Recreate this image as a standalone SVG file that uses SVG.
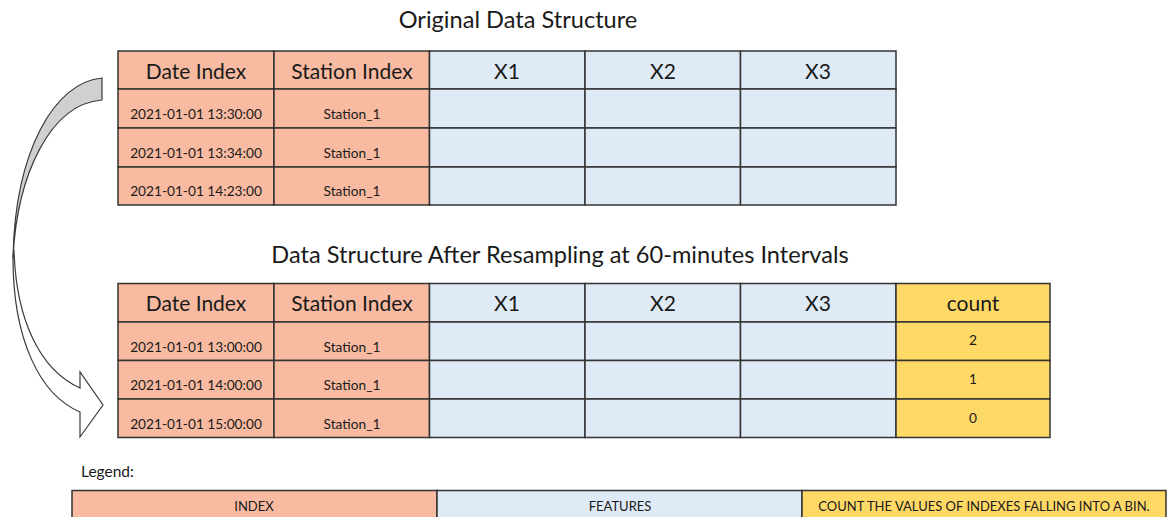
<svg xmlns="http://www.w3.org/2000/svg" width="1167" height="517" viewBox="0 0 1167 517">
  <style>
    text { font-family: Lato, "Open Sans", "Liberation Sans", sans-serif; fill: #1a1a1a; text-anchor: middle; }
    .title { font-size: 23.6px; }
    .head { font-size: 21px; }
    .cell { font-size: 13.7px; }
    .leg { font-size: 13px; }
    .legtitle { font-size: 15.5px; text-anchor: start; }
    .idx { fill: #F8BBA1; stroke: #333; stroke-width: 1.5; }
    .feat { fill: #DEEAF6; stroke: #333; stroke-width: 1.5; }
    .cnt { fill: #FFD966; stroke: #333; stroke-width: 1.5; }
    .arrow-back { fill: #D0D0D0; stroke: #3a3a3a; stroke-width: 1.2; }
    .arrow-front { fill: #ffffff; stroke: #3a3a3a; stroke-width: 1.2; }
  </style>

  <!-- curved arrow linking the two tables -->
  <g id="connectors">
    <path class="arrow-back" d="M102,78 C55,82 15,150 13,258 C17,175 50,104 102,100 Z"/>
    <path class="arrow-front" d="M14,250 C16,320 40,370 80,388 L80,372 L103,405 L80,437 L80,412 C40,395 13,340 13,258 Z"/>
  </g>

  <!-- original table -->
  <g id="title-original">
    <text class="title" x="518" y="28">Original Data Structure</text>
  </g>
  <g id="table-original">
    <rect class="idx" x="118" y="51" width="156" height="38"/>
    <rect class="idx" x="274" y="51" width="155.5" height="38"/>
    <rect class="feat" x="429.5" y="51" width="155.5" height="38"/>
    <rect class="feat" x="585" y="51" width="155.5" height="38"/>
    <rect class="feat" x="740.5" y="51" width="155.5" height="38"/>
    <rect class="idx" x="118" y="89" width="156" height="39"/>
    <rect class="idx" x="274" y="89" width="155.5" height="39"/>
    <rect class="feat" x="429.5" y="89" width="155.5" height="39"/>
    <rect class="feat" x="585" y="89" width="155.5" height="39"/>
    <rect class="feat" x="740.5" y="89" width="155.5" height="39"/>
    <rect class="idx" x="118" y="128" width="156" height="39"/>
    <rect class="idx" x="274" y="128" width="155.5" height="39"/>
    <rect class="feat" x="429.5" y="128" width="155.5" height="39"/>
    <rect class="feat" x="585" y="128" width="155.5" height="39"/>
    <rect class="feat" x="740.5" y="128" width="155.5" height="39"/>
    <rect class="idx" x="118" y="167" width="156" height="38"/>
    <rect class="idx" x="274" y="167" width="155.5" height="38"/>
    <rect class="feat" x="429.5" y="167" width="155.5" height="38"/>
    <rect class="feat" x="585" y="167" width="155.5" height="38"/>
    <rect class="feat" x="740.5" y="167" width="155.5" height="38"/>
    <text class="head" x="196" y="79">Date Index</text>
    <text class="head" x="352" y="79">Station Index</text>
    <text class="head" x="507" y="79">X1</text>
    <text class="head" x="663" y="79">X2</text>
    <text class="head" x="818" y="79">X3</text>
    <text class="cell" x="196" y="119">2021-01-01 13:30:00</text>
    <text class="cell" x="352" y="119">Station_1</text>
    <text class="cell" x="196" y="158">2021-01-01 13:34:00</text>
    <text class="cell" x="352" y="158">Station_1</text>
    <text class="cell" x="196" y="196">2021-01-01 14:23:00</text>
    <text class="cell" x="352" y="196">Station_1</text>
  </g>

  <!-- resampled table -->
  <g id="title-resampled">
    <text class="title" x="560" y="263">Data Structure After Resampling at 60-minutes Intervals</text>
  </g>
  <g id="table-resampled">
    <rect class="idx" x="118" y="283.5" width="156" height="38.5"/>
    <rect class="idx" x="274" y="283.5" width="155.5" height="38.5"/>
    <rect class="feat" x="429.5" y="283.5" width="155.5" height="38.5"/>
    <rect class="feat" x="585" y="283.5" width="155.5" height="38.5"/>
    <rect class="feat" x="740.5" y="283.5" width="155.5" height="38.5"/>
    <rect class="cnt" x="896" y="283.5" width="154" height="38.5"/>
    <rect class="idx" x="118" y="322" width="156" height="38.5"/>
    <rect class="idx" x="274" y="322" width="155.5" height="38.5"/>
    <rect class="feat" x="429.5" y="322" width="155.5" height="38.5"/>
    <rect class="feat" x="585" y="322" width="155.5" height="38.5"/>
    <rect class="feat" x="740.5" y="322" width="155.5" height="38.5"/>
    <rect class="cnt" x="896" y="322" width="154" height="38.5"/>
    <rect class="idx" x="118" y="360.5" width="156" height="38.5"/>
    <rect class="idx" x="274" y="360.5" width="155.5" height="38.5"/>
    <rect class="feat" x="429.5" y="360.5" width="155.5" height="38.5"/>
    <rect class="feat" x="585" y="360.5" width="155.5" height="38.5"/>
    <rect class="feat" x="740.5" y="360.5" width="155.5" height="38.5"/>
    <rect class="cnt" x="896" y="360.5" width="154" height="38.5"/>
    <rect class="idx" x="118" y="399" width="156" height="38.5"/>
    <rect class="idx" x="274" y="399" width="155.5" height="38.5"/>
    <rect class="feat" x="429.5" y="399" width="155.5" height="38.5"/>
    <rect class="feat" x="585" y="399" width="155.5" height="38.5"/>
    <rect class="feat" x="740.5" y="399" width="155.5" height="38.5"/>
    <rect class="cnt" x="896" y="399" width="154" height="38.5"/>
    <text class="head" x="196" y="311">Date Index</text>
    <text class="head" x="352" y="311">Station Index</text>
    <text class="head" x="507" y="311">X1</text>
    <text class="head" x="663" y="311">X2</text>
    <text class="head" x="818" y="311">X3</text>
    <text class="head" x="973" y="311">count</text>
    <text class="cell" x="196" y="352">2021-01-01 13:00:00</text>
    <text class="cell" x="352" y="352">Station_1</text>
    <text class="cell" x="973" y="345">2</text>
    <text class="cell" x="196" y="390">2021-01-01 14:00:00</text>
    <text class="cell" x="352" y="390">Station_1</text>
    <text class="cell" x="973" y="384">1</text>
    <text class="cell" x="196" y="429">2021-01-01 15:00:00</text>
    <text class="cell" x="352" y="429">Station_1</text>
    <text class="cell" x="973" y="423">0</text>
  </g>

  <!-- legend -->
  <g id="legend">
    <text class="legtitle" x="81" y="477">Legend:</text>
    <rect class="idx" x="72" y="490.5" width="365" height="32"/>
    <rect class="feat" x="437" y="490.5" width="365" height="32"/>
    <rect class="cnt" x="802" y="490.5" width="364" height="32"/>
    <text class="leg" x="254" y="511">INDEX</text>
    <text class="leg" x="620" y="511">FEATURES</text>
    <text class="leg" x="984" y="511">COUNT THE VALUES OF INDEXES FALLING INTO A BIN.</text>
  </g>
</svg>
